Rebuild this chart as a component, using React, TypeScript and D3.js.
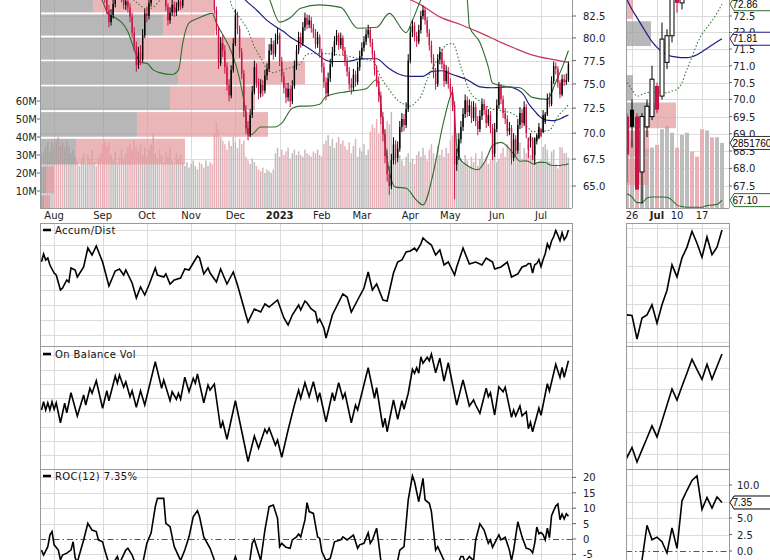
import React from 'react';
import * as d3 from 'd3';

// ---------- DATA ----------
const holidays = ['2022-09-05','2022-11-24','2022-12-26','2023-01-02','2023-01-16','2023-02-20','2023-04-07','2023-05-29','2023-06-19','2023-07-04'];

const opens = [91.4,91.0,90.2,90.6,91.5,92.3,92.6,91.6,90.4,89.3,87.8,86.6,87.3,86.9,87.5,88.2,89.4,86.9,85.7,86.3,87.2,88.0,88.9,90.1,89.5,89.8,90.4,90.3,88.6,87.4,85.9,84.6,83.2,81.8,82.6,83.9,85.0,85.8,85.2,84.7,83.8,84.2,83.5,82.4,80.6,79.1,77.0,78.4,77.6,80.3,82.8,82.5,84.0,84.9,86.2,87.5,88.3,87.9,87.4,85.8,83.6,82.0,82.9,83.8,82.9,83.5,84.2,83.7,84.8,85.8,86.6,87.3,87.9,88.6,89.4,89.9,89.1,88.3,87.0,87.8,88.5,87.4,85.0,83.2,80.9,77.2,79.4,78.6,76.8,74.9,73.8,76.5,79.4,82.6,81.0,78.4,76.1,72.2,70.5,69.9,71.8,74.2,76.8,75.1,74.0,74.9,74.3,75.9,76.6,78.6,79.3,78.2,79.8,80.3,77.4,75.8,74.6,73.6,74.5,73.2,74.8,76.9,78.6,80.1,79.4,81.2,82.3,81.5,82.0,81.1,80.6,79.3,80.1,78.4,76.8,75.2,74.0,75.6,77.1,78.4,79.6,80.3,79.2,80.0,78.6,77.4,76.3,75.0,74.6,76.0,75.2,76.8,78.0,78.9,79.6,80.4,80.9,79.5,78.2,76.5,75.3,73.8,71.6,69.9,67.8,66.1,65.0,67.4,68.9,67.6,68.5,70.6,71.4,70.8,72.4,77.5,80.6,81.4,80.2,79.6,80.9,82.5,83.2,82.0,80.6,79.2,77.8,76.2,75.0,77.6,78.4,77.1,75.3,76.4,75.0,74.2,72.8,67.0,67.8,69.4,70.6,71.9,73.3,72.1,72.8,71.5,72.6,71.2,70.4,71.7,72.9,72.3,71.0,71.8,70.5,68.0,70.4,72.8,74.6,73.4,72.0,71.4,70.2,70.5,67.6,69.4,68.3,70.8,72.0,71.0,72.6,69.5,69.7,69.5,67.9,69.2,69.5,70.4,70.1,71.1,71.9,73.6,72.9,75.3,76.9,76.6,75.1,73.9,75.5,75.2,75.4];
const highs = [92.0,91.5,91.3,92.0,93.1,93.4,93.0,92.1,91.0,89.9,88.3,87.9,87.8,88.1,88.8,90.0,89.6,87.3,86.9,87.7,88.6,89.4,90.7,90.6,90.5,91.0,91.1,90.6,89.0,87.8,86.4,85.1,83.8,83.3,84.5,85.6,86.4,86.3,85.8,85.2,84.9,84.8,84.0,82.9,81.2,79.6,79.0,79.2,81.0,83.3,83.6,84.6,85.5,86.8,88.0,88.9,88.8,88.4,87.7,86.1,84.0,83.5,84.4,84.2,84.1,84.8,84.7,85.4,86.3,87.2,87.9,88.5,89.2,90.0,90.5,90.3,89.6,88.7,88.4,89.1,88.9,87.7,85.4,83.6,81.3,80.1,80.3,79.2,77.3,75.5,77.0,80.0,83.3,83.0,81.4,78.9,76.5,72.8,71.2,72.4,74.8,77.5,77.2,75.6,75.5,75.4,76.5,77.2,79.3,80.0,79.7,80.5,81.1,80.6,77.9,76.3,75.1,75.1,74.9,75.4,77.5,79.2,80.7,80.6,81.8,82.9,82.7,82.6,82.4,81.6,81.0,80.7,80.4,78.8,77.3,75.7,76.2,77.7,79.0,80.2,80.9,80.6,80.6,80.3,79.0,77.9,76.8,75.6,76.6,76.4,77.4,78.6,79.5,80.2,81.0,81.5,81.2,79.9,78.6,77.0,75.8,74.2,72.1,70.4,68.4,66.8,68.0,69.6,69.3,69.2,71.2,72.0,71.9,73.1,78.2,81.3,82.0,81.8,80.7,81.5,83.1,83.7,83.5,82.4,81.0,79.7,78.2,76.7,78.2,79.0,78.8,77.5,77.0,76.8,75.6,74.7,73.2,68.5,70.0,71.2,72.5,73.9,73.7,73.4,73.2,73.2,73.0,71.7,72.3,73.5,73.4,72.7,72.4,72.2,70.9,71.0,73.4,75.2,75.0,73.8,72.5,71.8,71.1,70.8,70.0,69.8,71.4,72.6,72.4,73.2,72.9,69.6,70.0,69.6,69.6,70.0,71.0,70.5,72.3,72.1,74.0,74.1,75.8,77.4,77.3,76.9,75.4,76.0,76.0,76.1,77.4];
const lows = [90.5,89.7,89.8,90.2,91.2,91.8,91.0,90.0,88.8,87.2,86.0,86.1,86.2,86.5,87.0,87.9,86.3,85.1,85.2,85.9,86.8,87.5,88.5,88.9,89.0,89.3,89.6,88.1,86.8,85.4,84.0,82.7,81.2,81.4,82.2,83.5,84.7,84.6,84.1,83.3,83.2,82.9,81.8,80.0,78.5,76.3,76.6,77.0,77.3,80.0,81.8,82.1,83.6,84.6,85.8,87.0,87.3,86.8,85.2,83.1,81.4,81.6,82.5,82.4,82.5,83.1,83.2,83.4,84.6,85.4,86.2,86.8,87.5,88.2,89.0,88.6,87.8,86.5,86.6,87.4,86.9,84.6,82.7,80.3,76.6,76.9,77.9,76.1,74.3,73.2,73.5,76.2,79.1,80.4,77.8,75.5,71.6,69.9,69.3,69.6,71.5,73.9,74.6,73.4,73.6,73.7,74.0,75.4,76.3,78.1,77.6,77.9,79.3,76.9,75.2,74.0,73.0,73.2,72.6,72.9,74.5,76.5,78.2,78.9,79.1,80.8,81.0,81.1,80.6,80.0,78.8,78.9,77.8,76.2,74.6,73.3,73.7,75.2,76.8,78.0,79.2,78.7,78.8,78.1,76.9,75.8,74.4,73.9,74.3,74.7,74.9,76.4,77.6,78.5,79.2,80.0,79.0,77.7,75.9,74.7,73.1,70.9,69.2,67.1,65.4,64.2,64.7,67.0,67.0,67.2,68.2,70.1,70.2,70.5,72.1,77.2,80.1,79.6,79.0,79.3,80.5,82.1,81.5,80.1,78.6,77.2,75.6,74.4,74.7,77.1,76.6,74.7,75.0,74.5,73.6,72.2,63.8,66.4,67.4,69.0,70.2,71.5,71.6,71.7,71.0,71.2,70.7,69.8,70.1,71.3,71.8,70.5,70.7,70.0,67.4,67.7,70.1,72.4,72.9,71.5,70.9,69.7,69.8,67.0,67.3,67.8,68.0,70.4,70.5,70.7,69.5,67.6,68.6,67.4,67.0,68.9,69.4,69.6,70.0,70.9,71.7,72.6,72.7,75.0,76.0,74.6,73.5,73.7,74.8,74.9,75.2];
const closes = [91.0,90.2,90.6,91.5,92.3,92.6,91.6,90.4,89.3,87.8,86.6,87.3,86.9,87.5,88.2,89.4,86.9,85.7,86.3,87.2,88.0,88.9,90.1,89.5,89.8,90.4,90.3,88.6,87.4,85.9,84.6,83.2,81.8,82.6,83.9,85.0,85.8,85.2,84.7,83.8,84.2,83.5,82.4,80.6,79.1,77.0,78.4,77.6,80.3,82.8,82.5,84.0,84.9,86.2,87.5,88.3,87.9,87.4,85.8,83.6,82.0,82.9,83.8,82.9,83.5,84.2,83.7,84.8,85.8,86.6,87.3,87.9,88.6,89.4,89.9,89.1,88.3,87.0,87.8,88.5,87.4,85.0,83.2,80.9,77.2,79.4,78.6,76.8,74.9,73.8,76.5,79.4,82.6,81.0,78.4,76.1,72.2,70.5,69.9,71.8,74.2,76.8,75.1,74.0,74.9,74.3,75.9,76.6,78.6,79.3,78.2,79.8,80.3,77.4,75.8,74.6,73.6,74.5,73.2,74.8,76.9,78.6,80.1,79.4,81.2,82.3,81.5,82.0,81.1,80.6,79.3,80.1,78.4,76.8,75.2,74.0,75.6,77.1,78.4,79.6,80.3,79.2,80.0,78.6,77.4,76.3,75.0,74.6,76.0,75.2,76.8,78.0,78.9,79.6,80.4,80.9,79.5,78.2,76.5,75.3,73.8,71.6,69.9,67.8,66.1,65.0,67.4,68.9,67.6,68.5,70.6,71.4,70.8,72.4,77.5,80.6,81.4,80.2,79.6,80.9,82.5,83.2,82.0,80.6,79.2,77.8,76.2,75.0,77.6,78.4,77.1,75.3,76.4,75.0,74.2,72.8,67.0,67.8,69.4,70.6,71.9,73.3,72.1,72.8,71.5,72.6,71.2,70.4,71.7,72.9,72.3,71.0,71.8,70.5,68.0,70.4,72.8,74.6,73.4,72.0,71.4,70.2,70.5,67.6,69.4,68.3,70.8,72.0,71.0,72.6,70.0,68.4,69.2,67.4,69.5,69.8,70.6,69.7,71.8,71.9,73.5,72.9,75.3,76.9,76.6,75.1,73.9,75.5,75.2,75.4,77.1];
const volumes = [30,32,35,37,32,37,34,38,40,35,37,34,38,35,31,33,29,27,24,28,31,25,30,27,33,26,24,29,31,36,38,35,37,30,27,32,25,29,33,28,31,34,36,33,38,35,32,36,30,34,29,33,36,42,31,28,33,30,26,32,29,34,27,25,31,28,30,26,24,26,23,25,27,24,22,26,25,23,27,24,26,25,42,48,44,40,38,36,33,38,35,40,37,34,39,36,38,29,27,25,28,26,24,22,21,23,20,22,21,20,22,31,34,29,33,30,32,34,28,31,33,30,32,30,29,33,31,30,29,32,31,33,30,29,36,38,41,35,39,34,37,40,36,38,35,33,37,31,35,39,29,34,32,36,30,33,43,47,45,50,42,48,46,44,49,47,54,31,28,26,30,27,24,29,31,26,28,25,30,32,29,34,30,27,33,36,31,28,35,30,33,29,34,31,38,41,45,42,39,28,25,30,27,23,29,26,31,24,28,32,26,29,25,27,33,30,26,28,31,34,29,36,33,38,30,35,32,37,28,34,31,36,30,33,35,26,26.5,27.7,34.5,36,33,26.5,32,33,24.7,22.5,34.5,34,31,31,28.5176];

// indicator lines: [trading-day index, value]
const sma20: [number, number][] = [[0,89.5],[10,90.2],[20,88.3],[28,88.4],[35,86.5],[42,84.8],[46,83.9],[50,83.3],[53,83.5],[56,84.3],[60,85.0],[68,85.3],[74,86.2],[80,87.6],[86,86.8],[91,83.3],[95,82.0],[98,80.8],[101,79.0],[104,77.8],[107,76.6],[110,76.2],[113,76.4],[116,76.6],[119,76.8],[123,77.2],[126,78.2],[132,78.3],[138,78.2],[145,78.0],[151,77.7],[157,77.5],[161,75.7],[165,74.4],[169,73.3],[172,72.9],[175,72.7],[178,73.2],[180,73.7],[183,75.5],[188,77.7],[192,79.2],[195,79.4],[199,76.8],[203,74.3],[208,73.2],[214,72.4],[219,72.2],[224,71.9],[228,71.2],[231,70.5],[232,70.3],[233,70.1],[234,70.15],[235,70.2],[236,70.22],[237,70.22],[238,70.2],[239,70.2],[240,70.25],[241,70.3],[242,70.5],[243,70.9],[244,71.26],[245,71.65],[246,71.95],[247,72.15],[248,72.35],[249,72.59],[250,72.86]];
const sma50: [number, number][] = [[0,89.5],[40,88.2],[70,86.8],[90,86.3],[97,84.3],[102,83.2],[107,82.0],[111,81.3],[115,80.7],[118,80.1],[123,79.4],[129,78.5],[137,77.4],[145,77.4],[152,77.7],[159,77.7],[164,76.8],[170,76.0],[175,75.8],[181,75.8],[185,76.3],[190,76.4],[195,76.0],[202,75.45],[208,74.7],[214,74.6],[221,74.7],[226,74.4],[229,73.8],[230,73.4],[231,73.0],[232,72.7],[233,72.45],[234,72.2],[235,71.95],[236,71.72],[237,71.55],[238,71.42],[239,71.33],[240,71.28],[241,71.26],[242,71.24],[243,71.24],[244,71.27],[245,71.33],[246,71.42],[247,71.52],[248,71.62],[249,71.72],[250,71.81]];
const sma200: [number, number][] = [[0,92.0],[60,90.5],[120,87.5],[160,85.5],[175,84.4],[180,83.8],[189,82.4],[199,81.5],[208,80.6],[218,79.5],[224,78.9],[233,78.1],[243,77.6],[250,77.3]];
const bbUpper: [number, number][] = [[0,95.5],[30,94],[60,92],[80,91.5],[95,93],[100,91],[104,87],[108,84.6],[113,81.8],[118,82.3],[123,83.4],[132,83.8],[142,83.5],[150,81.1],[159,81.2],[165,82.8],[173,80.6],[176,82.0],[180,84.4],[186,87.0],[192,88.0],[198,87.0],[202,84.4],[203,81.3],[208,79.5],[212,76.8],[214,75.1],[221,74.7],[227,74.6],[233,73.6],[240,73.4],[244,75.2],[248,77.3],[250,78.6]];
const bbLower: [number, number][] = [[0,88.0],[10,86.0],[20,85.2],[28,84.6],[32,82.6],[35,82.3],[41,80.7],[45,78.1],[47,77.3],[50,77.2],[53,76.5],[56,76.2],[62,76.0],[65,76.5],[67,79.4],[70,81.7],[74,82.2],[81,82.8],[83,81.7],[91,77.9],[94,75.5],[97,71.8],[98,69.8],[100,69.9],[104,70.6],[110,70.6],[114,71.0],[119,72.5],[123,72.7],[126,72.7],[132,72.9],[135,73.7],[145,74.2],[154,74.5],[159,75.45],[162,71.0],[164,67.5],[168,64.9],[173,64.8],[178,63.7],[181,63.3],[186,66.3],[190,70.4],[194,73.7],[195,74.2],[197,68.8],[199,67.4],[202,66.9],[207,66.5],[211,67.5],[214,68.8],[218,69.1],[224,68.0],[227,67.3],[230,67.33],[231,67.28],[232,67.19],[233,67.03],[234,67.03],[235,67.16],[236,67.19],[237,67.19],[238,67.19],[239,67.18],[240,67.1],[241,66.96],[242,66.92],[243,66.9],[244,66.9],[245,66.9],[246,66.9],[247,66.95],[248,66.96],[249,66.98],[250,67.1]];

const accumDist: [number, number][] = [[0,337],[1,368],[2,344],[3,352],[4,324],[6,292],[7,284],[9,224],[10,232],[12,264],[13,256],[14,312],[16,304],[17,276],[20,316],[22,392],[24,364],[26,400],[29,336],[32,240],[35,300],[37,308],[39,284],[40,304],[43,252],[45,192],[47,236],[49,204],[51,244],[54,312],[55,284],[58,276],[59,288],[61,248],[63,264],[66,272],[68,308],[70,304],[72,332],[74,360],[75,352],[77,288],[79,312],[80,292],[83,256],[85,308],[88,248],[91,296],[93,244],[97,124],[98,96],[101,148],[104,136],[106,168],[108,156],[112,184],[115,112],[117,84],[119,124],[122,164],[123,144],[125,180],[126,172],[128,148],[130,136],[131,96],[132,108],[134,72],[135,32],[138,124],[143,208],[145,196],[147,136],[150,184],[153,232],[155,296],[157,224],[159,248],[162,184],[164,180],[167,292],[169,336],[171,344],[173,376],[175,380],[177,392],[178,380],[180,408],[181,432],[183,416],[185,404],[187,364],[189,384],[191,324],[193,336],[196,284],[197,316],[200,392],[203,328],[206,336],[209,324],[211,352],[214,336],[215,308],[218,316],[221,336],[223,276],[226,288],[228,316],[230,322],[231,330],[232,329],[233,292],[234,325],[235,330],[236,346],[237,317],[238,346],[239,369],[240,409],[241,390],[242,420],[243,437],[244,462],[245,443],[246,421],[247,453],[248,425],[249,437],[250,464]];
const onBalanceVol: [number, number][] = [[0,236],[1,269],[2,236],[3,265],[4,236],[5,269],[6,239],[7,265],[9,185],[11,263],[12,225],[14,305],[17,212],[20,296],[21,256],[23,323],[24,303],[26,353],[29,243],[31,313],[32,273],[35,372],[36,343],[37,376],[39,327],[40,349],[42,289],[43,313],[45,247],[47,313],[49,256],[54,429],[57,323],[58,356],[61,273],[62,309],[64,279],[65,303],[66,279],[68,367],[70,309],[72,363],[73,343],[74,380],[77,265],[79,336],[80,316],[82,340],[85,163],[86,189],[88,119],[92,273],[98,30],[101,132],[103,83],[106,159],[107,143],[108,163],[111,96],[112,116],[114,47],[117,156],[120,256],[122,316],[123,283],[125,345],[127,289],[129,349],[131,276],[132,305],[135,189],[138,305],[139,273],[141,345],[143,283],[144,303],[147,185],[149,256],[150,236],[155,405],[158,283],[159,325],[162,167],[163,203],[164,149],[167,276],[169,199],[171,273],[172,239],[174,303],[176,399],[177,383],[178,405],[179,383],[180,449],[181,423],[183,447],[184,433],[185,460],[187,385],[189,443],[191,352],[193,425],[197,256],[200,356],[203,252],[205,276],[206,256],[208,223],[211,323],[212,289],[213,305],[215,216],[217,329],[219,309],[220,327],[223,207],[224,236],[225,212],[227,252],[228,212],[230,229],[231,161],[232,187],[233,149],[234,181],[235,212],[236,244],[237,215],[238,257],[239,299],[240,341],[241,312],[242,348],[243,383],[244,419],[245,392],[246,366],[247,406],[248,367],[249,400],[250,433]];
const roc12: [number, number][] = [[0,-3.6],[1,-5.2],[3,-2.5],[4,1.3],[5,2.4],[6,-1.9],[8,-3.6],[9,-6.8],[10,-5.2],[12,-4.6],[14,-3.6],[15,-0.9],[16,-6.2],[17,-7.5],[20,-0.3],[22,5.1],[24,2.9],[26,2.4],[27,-0.3],[29,-0.9],[30,-3.6],[32,-8],[33,-9],[36,-5.7],[37,-8],[40,-3.6],[41,-3],[43,-5.2],[45,-9],[47,-10],[48,-8],[50,-1.4],[52,1.9],[54,10.5],[55,13.2],[58,13.2],[59,5.1],[61,4],[63,-2.5],[66,-7],[68,-3.6],[70,0.7],[72,7.2],[74,9.2],[75,7.2],[77,0.7],[80,-3],[82,-6.8],[84,-10],[87,-14],[89,-12],[92,-5.7],[94,-10],[97,-16],[100,-1.4],[101,-0.1],[102,-2.5],[104,-7],[106,2.9],[108,10.5],[110,11],[112,6.7],[113,-2.5],[114,-1.4],[116,-2.7],[118,-3],[119,-0.3],[121,0.7],[122,1.6],[123,0.7],[125,6.2],[126,11.8],[127,8.9],[129,8.3],[131,0.7],[132,0.2],[133,-4.1],[135,-7],[137,-6.3],[139,-0.9],[142,-0.3],[143,0.7],[145,-0.3],[148,1.3],[150,-3],[151,-1.9],[153,-1.4],[155,2],[156,-1.4],[157,-0.3],[159,3.5],[160,-1.4],[161,-7],[163,-12],[165,-15],[167,-10],[169,-7],[170,-3.6],[172,-2.5],[174,12.7],[176,20.5],[177,18.6],[179,12.1],[181,19.7],[182,12.7],[184,11.6],[185,8.9],[187,-3.6],[188,-2.5],[191,-7],[192,-10],[195,-12],[197,-9],[199,-5.7],[200,-5.7],[201,-7.5],[203,-5.7],[205,-7],[206,-0.3],[208,4.9],[210,2.9],[212,-1.4],[213,-0.3],[214,-2.7],[217,1.3],[218,-0.3],[220,0.6],[222,-3.6],[223,-7],[224,-3.6],[226,5.6],[228,0.7],[230,-3],[231,-3.2],[232,-3.5],[233,-4.5],[234,-1.4],[235,3.9],[236,1.7],[237,2.1],[238,1.4],[239,-0.3],[240,3.5],[241,0.4],[242,7.6],[243,9.2],[244,10.7],[245,11.4],[246,6.3],[247,8.1],[248,6.5],[249,8.2],[250,7.35]];

// volume-by-price zones (price floor of each zone) and up/down volume, M shares
const vbpFloors = [61.6,64.25,66.9,69.55,72.2,74.85,77.5,80.15,82.8,85.45,88.1,90.75];
const vbpUp =   [40,60,360,970,1300,1380,1000,1230,530,900,700,500];
const vbpDown = [60,80,1090,1310,850,1270,1250,520,1200,600,500,300];
const rightVbpFloors = [66.69,67.5,68.31,69.13,69.94,70.75,71.56,72.38];
const rightVbpUp =   [0,0,0,960,280,0,1000,0];
const rightVbpDown = [0,900,920,1040,0,0,0,280];

const priceTicks = [65.0,67.5,70.0,72.5,75.0,77.5,80.0,82.5];
const rightPriceTicks = [67.5,68.0,68.5,69.0,69.5,70.0,70.5,71.0,71.5,72.0,72.5];
const volTicks = [10,20,30,40,50,60];
const rocTicks = [-5,0,5,10,15,20];
const rightRocTicks = [0,2.5,5.0,7.5,10.0];
const monthNames = ['Jan','Feb','Mar','Apr','May','Jun','Jul','Aug','Sep','Oct','Nov','Dec'];

// ---------- HELPERS ----------
function tradingDays(): Date[] {
  const fmt = d3.timeFormat('%Y-%m-%d');
  return d3.timeDay.range(new Date(2022, 6, 22), new Date(2023, 6, 22))
    .filter(d => d.getDay() !== 0 && d.getDay() !== 6 && !holidays.includes(fmt(d)));
}

const FONT = '"DejaVu Sans", Verdana, sans-serif';
const TAGFONT = '"Liberation Sans", Arial, sans-serif';
const FS = 10;
const RED = '#cc1144';
const GRID = '#dcdcdc';
const BORDER = '#9a9a9a';

export default function App() {
  const days = tradingDays();
  const n = days.length;

  const L = { x0: 40, x1: 572 };
  const R = { x0: 626, x1: 729 };
  const P = { top: -20, bottom: 208 };
  const AD = { top: 223, bottom: 346 };
  const OB = { top: 346, bottom: 469 };
  const RC = { top: 469, bottom: 620 };

  const xL = d3.scaleLinear().domain([-0.7, n + 0.7]).range([L.x0, L.x1]);
  const xR = d3.scaleLinear().domain([n - 20.2, n + 0.4]).range([R.x0, R.x1]);

  const yP = d3.scaleLog().domain([65, 82.5]).range([186, 16]);
  const yPR = d3.scaleLog().domain([67.5, 72.5]).range([186, 16]);
  const yV = d3.scaleLinear().domain([0, 60]).range([209, 101]);
  const yVR = d3.scaleLinear().domain([0, 28.5]).range([208, 143]);
  const vbpX = d3.scaleLinear().domain([0, 1000]).range([0, 100]);
  const vbpXR = d3.scaleLinear().domain([0, 1000]).range([0, 25]);

  const yAD = d3.scaleLinear().domain([0, 492]).range([AD.bottom, AD.top]);
  const yOB = d3.scaleLinear().domain([0, 492]).range([OB.bottom, OB.top]);
  const yRC = d3.scaleLinear().domain([0, 20]).range([539, 477.4]);
  const yRCR = d3.scaleLinear().domain([0, 10]).range([551, 485]);

  const winStart = n - 20;
  const inWin = (p: [number, number]) => p[0] >= winStart;
  const adExt = d3.extent(accumDist.filter(inWin), d => d[1]) as [number, number];
  const obExt = d3.extent(onBalanceVol.filter(inWin), d => d[1]) as [number, number];
  const yADR = d3.scaleLinear().domain(adExt).range([AD.bottom - 7, AD.top + 7]);
  const yOBR = d3.scaleLinear().domain(obExt).range([OB.bottom - 7, OB.top + 8]);

  const monthStarts: number[] = [];
  for (let i = 1; i < n; i++) if (days[i].getMonth() !== days[i - 1].getMonth()) monthStarts.push(i);
  const weekStarts: number[] = [];
  for (let i = winStart; i < n; i++) if (days[i].getDay() < days[i - 1].getDay() || (days[i].getTime() - days[i - 1].getTime()) > 3.5 * 864e5) weekStarts.push(i);

  const line = (x: d3.ScaleLinear<number, number>, y: any, pts: [number, number][]) =>
    d3.line<[number, number]>().x(d => x(d[0])).y(d => y(d[1])).curve(d3.curveMonotoneX)(pts) || '';
  const lineStraight = (x: d3.ScaleLinear<number, number>, y: any, pts: [number, number][]) =>
    d3.line<[number, number]>().x(d => x(d[0])).y(d => y(d[1]))(pts) || '';

  const idx = d3.range(n);
  const isDown = (i: number) => i > 0 && closes[i] < closes[i - 1];

  const candles = (x: d3.ScaleLinear<number, number>, y: any, bw: number, hollow: boolean) =>
    idx.map(i => {
      const cx = x(i);
      const col = isDown(i) ? RED : '#000';
      const o = opens[i], c = closes[i];
      const top = y(Math.max(o, c)), bot = y(Math.min(o, c));
      const filled = !hollow || c < o;
      return (
        <g key={i}>
          <line x1={cx} x2={cx} y1={y(highs[i])} y2={y(lows[i])} stroke={col} strokeWidth={1} />
          <rect x={cx - bw / 2} y={top} width={bw} height={Math.max(bot - top, 0.8)}
            fill={filled ? col : '#fff'} stroke={filled ? 'none' : col} strokeWidth={1} />
        </g>
      );
    });

  const volBars = (x: d3.ScaleLinear<number, number>, y: d3.ScaleLinear<number, number>, bw: number) =>
    idx.map(i => (
      <rect key={i} x={x(i) - bw / 2} y={y(volumes[i])} width={bw} height={y(0) - y(volumes[i])}
        fill={isDown(i) ? '#eab0b8' : '#bdbdbd'} />
    ));

  const vbpRows = (floors: number[], up: number[], down: number[], y: any, xs: d3.ScaleLinear<number, number>, x0: number, step: number) =>
    floors.map((f, k) => {
      const yTop = y(f + step) + 1;
      const yBot = y(f) - 1;
      const wu = xs(up[k]);
      const wd = xs(down[k]);
      return (
        <g key={k} opacity={0.72}>
          <rect x={x0} y={yTop} width={wu} height={yBot - yTop} fill="#9c9c9c" />
          <rect x={x0 + wu} y={yTop} width={wd} height={yBot - yTop} fill="#e49a9e" />
        </g>
      );
    });

  const tag = (x: number, y: number, text: string, color: string, key: string) => (
    <g key={key}>
      <path d={`M${x},${y} L${x + 4},${y - 6.5} L${x + 60},${y - 6.5} L${x + 60},${y + 6.5} L${x + 4},${y + 6.5} Z`}
        fill="#fff" stroke={color} strokeWidth={1} />
      <text x={x + 2.5} y={y + 3.7} fontSize={10} fontFamily={TAGFONT} fill="#000">{text}</text>
    </g>
  );

  const legend = (x: number, y: number, text: string) => (
    <g>
      <line x1={x} x2={x + 8} y1={y} y2={y} stroke="#000" strokeWidth={2.5} />
      <text x={x + 12} y={y + 4} fontSize={FS} fontFamily={FONT} letterSpacing={0.4} fill="#111">{text}</text>
    </g>
  );

  const vGrid = (x: d3.ScaleLinear<number, number>, list: number[], y1: number, y2: number, k: string) =>
    list.map(i => <line key={k + i} x1={Math.round(x(i)) + 0.5} x2={Math.round(x(i)) + 0.5} y1={y1} y2={y2} stroke={GRID} />);
  const hGrid = (ys: number[], x1: number, x2: number, k: string, color = GRID) =>
    ys.map((yy, j) => <line key={k + j} x1={x1} x2={x2} y1={Math.round(yy) + 0.5} y2={Math.round(yy) + 0.5} stroke={color} />);

  const adGridL = d3.range(44, 492, 60).map(v => yAD(v));
  const obGridL = d3.range(56, 492, 57).map(v => yOB(v));
  const adGridR = d3.range(0, 7).map(k => AD.top + 5 + k * 19);
  const obGridR = d3.range(1, 6).map(k => OB.top + k * 21.5);

  const last = n - 1;
  const lastOf = (a: [number, number][]) => a[a.length - 1][1];

  return (
    <svg width={770} height={560} style={{ position: 'absolute', left: 0, top: 0, background: '#fff' }}>
      <defs>
        <clipPath id="cpL"><rect x={L.x0} y={P.top} width={L.x1 - L.x0} height={P.bottom - P.top} /></clipPath>
        <clipPath id="cpR"><rect x={R.x0} y={P.top} width={R.x1 - R.x0} height={P.bottom - P.top} /></clipPath>
        <clipPath id="cpLad"><rect x={L.x0} y={AD.top} width={L.x1 - L.x0} height={AD.bottom - AD.top} /></clipPath>
        <clipPath id="cpRad"><rect x={R.x0} y={AD.top} width={R.x1 - R.x0} height={AD.bottom - AD.top} /></clipPath>
        <clipPath id="cpLob"><rect x={L.x0} y={OB.top} width={L.x1 - L.x0} height={OB.bottom - OB.top} /></clipPath>
        <clipPath id="cpRob"><rect x={R.x0} y={OB.top} width={R.x1 - R.x0} height={OB.bottom - OB.top} /></clipPath>
        <clipPath id="cpLrc"><rect x={L.x0} y={RC.top} width={L.x1 - L.x0} height={RC.bottom - RC.top} /></clipPath>
        <clipPath id="cpRrc"><rect x={R.x0} y={RC.top} width={R.x1 - R.x0} height={RC.bottom - RC.top} /></clipPath>
      </defs>
      <rect x={0} y={0} width={770} height={560} fill="#fff" />

      {/* ===== LEFT PRICE PANEL ===== */}
      <g clipPath="url(#cpL)">
        {vGrid(xL, monthStarts, P.top, P.bottom, 'vg')}
        {hGrid(priceTicks.map(t => yP(t)), L.x0, L.x1, 'hg')}
        {volBars(xL, yV, 1.5)}
        {vbpRows(vbpFloors, vbpUp, vbpDown, yP, vbpX, L.x0, 2.65)}
        <path d={line(xL, yP, sma200)} fill="none" stroke="#c8385a" strokeWidth={1.2} />
        <path d={line(xL, yP, sma50)} fill="none" stroke="#1c1c80" strokeWidth={1.2} />
        <path d={line(xL, yP, bbUpper)} fill="none" stroke="#2e6e2e" strokeWidth={1.1} />
        <path d={line(xL, yP, bbLower)} fill="none" stroke="#2e6e2e" strokeWidth={1.1} />
        <path d={line(xL, yP, sma20)} fill="none" stroke="#3a7a3a" strokeWidth={1.1} strokeDasharray="1.5,2" />
        {candles(xL, yP, 1.4, false)}
      </g>
      <line x1={L.x0 + 0.5} x2={L.x0 + 0.5} y1={0} y2={P.bottom} stroke={BORDER} />
      <line x1={L.x1 + 0.5} x2={L.x1 + 0.5} y1={0} y2={P.bottom} stroke={BORDER} />
      <line x1={L.x0} x2={L.x1} y1={P.bottom + 0.5} y2={P.bottom + 0.5} stroke={BORDER} />
      {priceTicks.map(t => (
        <g key={'pt' + t}>
          <line x1={L.x1} x2={L.x1 + 4} y1={yP(t)} y2={yP(t)} stroke="#666" />
          <text x={L.x1 + 11} y={yP(t) + 4} fontSize={FS} fontFamily={FONT} fill="#222">{t.toFixed(1)}</text>
        </g>
      ))}
      {volTicks.map(t => (
        <g key={'vt' + t}>
          <line x1={L.x0 - 3} x2={L.x0} y1={yV(t)} y2={yV(t)} stroke="#666" />
          <text x={L.x0 - 3} y={yV(t) + 4} fontSize={FS} fontFamily={FONT} textAnchor="end" fill="#222">{t}M</text>
        </g>
      ))}
      {monthStarts.map(i => {
        const d = days[i];
        const isYear = d.getMonth() === 0;
        return (
          <text key={'ml' + i} x={xL(i)} y={219} fontSize={FS} fontFamily={FONT} textAnchor="middle"
            fontWeight={isYear ? 'bold' : 'normal'} fill="#222">{isYear ? String(d.getFullYear()) : monthNames[d.getMonth()]}</text>
        );
      })}

      {/* ===== RIGHT PRICE PANEL ===== */}
      <g clipPath="url(#cpR)">
        {vGrid(xR, weekStarts, P.top, P.bottom, 'rvg')}
        {hGrid(rightPriceTicks.map(t => yPR(t)), R.x0, R.x1, 'rhg')}
        {volBars(xR, yVR, 4)}
        {vbpRows(rightVbpFloors, rightVbpUp, rightVbpDown, yPR, vbpXR, R.x0, 0.81)}
        <path d={line(xR, yPR, sma50)} fill="none" stroke="#1c1c80" strokeWidth={1.2} />
        <path d={line(xR, yPR, bbLower)} fill="none" stroke="#2e6e2e" strokeWidth={1.1} />
        <path d={line(xR, yPR, sma20)} fill="none" stroke="#3a7a3a" strokeWidth={1.1} strokeDasharray="1.5,2" />
        {candles(xR, yPR, 4, true)}
      </g>
      <line x1={R.x0 + 0.5} x2={R.x0 + 0.5} y1={0} y2={P.bottom} stroke={BORDER} />
      <line x1={R.x1 + 0.5} x2={R.x1 + 0.5} y1={0} y2={P.bottom} stroke={BORDER} />
      <line x1={R.x0} x2={R.x1} y1={P.bottom + 0.5} y2={P.bottom + 0.5} stroke={BORDER} />
      {rightPriceTicks.map(t => (
        <g key={'rpt' + t}>
          <line x1={R.x1} x2={R.x1 + 3} y1={yPR(t)} y2={yPR(t)} stroke="#666" />
          <text x={R.x1 + 4} y={yPR(t) + 4} fontSize={FS} fontFamily={FONT} fill="#222">{t.toFixed(1)}</text>
        </g>
      ))}
      {weekStarts.map(i => {
        const d = days[i];
        const newMonth = d.getMonth() !== days[i - 1].getMonth();
        return (
          <text key={'wl' + i} x={xR(i)} y={219} fontSize={FS} fontFamily={FONT} textAnchor="middle"
            fontWeight={newMonth ? 'bold' : 'normal'} fill="#222">{newMonth ? monthNames[d.getMonth()] : String(d.getDate())}</text>
        );
      })}
      {tag(R.x1 + 1, yPR(lastOf(sma20)), lastOf(sma20).toFixed(2), '#2e6e2e', 't1')}
      {tag(R.x1 + 1, yPR(lastOf(sma50)), lastOf(sma50).toFixed(2), '#1c1c80', 't2')}
      {tag(R.x1 + 1, yVR(volumes[last]), String(Math.round(volumes[last] * 1e6)), '#333', 't3')}
      {tag(R.x1 + 1, yPR(lastOf(bbLower)), lastOf(bbLower).toFixed(2), '#2e6e2e', 't4')}

      {/* ===== ACCUM/DIST ===== */}
      <g clipPath="url(#cpLad)">
        {vGrid(xL, monthStarts, AD.top, AD.bottom, 'adv')}
        {hGrid(adGridL, L.x0, L.x1, 'adh')}
        <path d={lineStraight(xL, yAD, accumDist)} fill="none" stroke="#000" strokeWidth={1.6} />
      </g>
      <rect x={L.x0 + 0.5} y={AD.top + 0.5} width={L.x1 - L.x0} height={AD.bottom - AD.top} fill="none" stroke={BORDER} />
      {legend(L.x0 + 3, AD.top + 7, 'Accum/Dist')}
      <g clipPath="url(#cpRad)">
        {vGrid(xR, weekStarts, AD.top, AD.bottom, 'radv')}
        {hGrid(adGridR, R.x0, R.x1, 'radh')}
        <path d={lineStraight(xR, yADR, accumDist.filter(p => p[0] >= winStart - 1))} fill="none" stroke="#000" strokeWidth={1.6} />
      </g>
      <rect x={R.x0 + 0.5} y={AD.top + 0.5} width={R.x1 - R.x0} height={AD.bottom - AD.top} fill="none" stroke={BORDER} />

      {/* ===== OBV ===== */}
      <g clipPath="url(#cpLob)">
        {vGrid(xL, monthStarts, OB.top, OB.bottom, 'obv')}
        {hGrid(obGridL, L.x0, L.x1, 'obh')}
        <path d={lineStraight(xL, yOB, onBalanceVol)} fill="none" stroke="#000" strokeWidth={1.6} />
      </g>
      <rect x={L.x0 + 0.5} y={OB.top + 0.5} width={L.x1 - L.x0} height={OB.bottom - OB.top} fill="none" stroke={BORDER} />
      {legend(L.x0 + 3, OB.top + 8, 'On Balance Vol')}
      <g clipPath="url(#cpRob)">
        {vGrid(xR, weekStarts, OB.top, OB.bottom, 'robv')}
        {hGrid(obGridR, R.x0, R.x1, 'robh')}
        <path d={lineStraight(xR, yOBR, onBalanceVol.filter(p => p[0] >= winStart - 1))} fill="none" stroke="#000" strokeWidth={1.6} />
      </g>
      <rect x={R.x0 + 0.5} y={OB.top + 0.5} width={R.x1 - R.x0} height={OB.bottom - OB.top} fill="none" stroke={BORDER} />

      {/* ===== ROC ===== */}
      <g clipPath="url(#cpLrc)">
        {vGrid(xL, monthStarts, RC.top, RC.bottom, 'rcv')}
        {hGrid(rocTicks.filter(t => t !== 0).map(t => yRC(t)), L.x0, L.x1, 'rch')}
        <line x1={L.x0} x2={L.x1} y1={Math.round(yRC(0)) + 0.5} y2={Math.round(yRC(0)) + 0.5} stroke="#555" strokeDasharray="6,3,1.5,3" />
        <path d={lineStraight(xL, yRC, roc12)} fill="none" stroke="#000" strokeWidth={1.6} />
      </g>
      <rect x={L.x0 + 0.5} y={RC.top + 0.5} width={L.x1 - L.x0} height={RC.bottom - RC.top} fill="none" stroke={BORDER} />
      {legend(L.x0 + 3, RC.top + 7, `ROC(12) ${lastOf(roc12).toFixed(2)}%`)}
      {rocTicks.map(t => (
        <g key={'rt' + t}>
          <line x1={L.x1} x2={L.x1 + 4} y1={yRC(t)} y2={yRC(t)} stroke="#666" />
          <text x={L.x1 + 11} y={yRC(t) + 4} fontSize={FS} fontFamily={FONT} fill="#222">{t}</text>
        </g>
      ))}
      <g clipPath="url(#cpRrc)">
        {vGrid(xR, weekStarts, RC.top, RC.bottom, 'rrcv')}
        {hGrid(rightRocTicks.filter(t => t !== 0).map(t => yRCR(t)), R.x0, R.x1, 'rrch')}
        <line x1={R.x0} x2={R.x1} y1={Math.round(yRCR(0)) + 0.5} y2={Math.round(yRCR(0)) + 0.5} stroke="#555" strokeDasharray="6,3,1.5,3" />
        <path d={lineStraight(xR, yRCR, roc12.filter(p => p[0] >= winStart - 1))} fill="none" stroke="#000" strokeWidth={1.6} />
      </g>
      <rect x={R.x0 + 0.5} y={RC.top + 0.5} width={R.x1 - R.x0} height={RC.bottom - RC.top} fill="none" stroke={BORDER} />
      {rightRocTicks.filter(t => t !== 7.5).map(t => (
        <g key={'rrt' + t}>
          <line x1={R.x1} x2={R.x1 + 3} y1={yRCR(t)} y2={yRCR(t)} stroke="#666" />
          <text x={R.x1 + 8} y={yRCR(t) + 4} fontSize={FS} fontFamily={FONT} fill="#222">{t.toFixed(1)}</text>
        </g>
      ))}
      {tag(R.x1 + 1, yRCR(lastOf(roc12)), lastOf(roc12).toFixed(2), '#000', 't5')}
    </svg>
  );
}
